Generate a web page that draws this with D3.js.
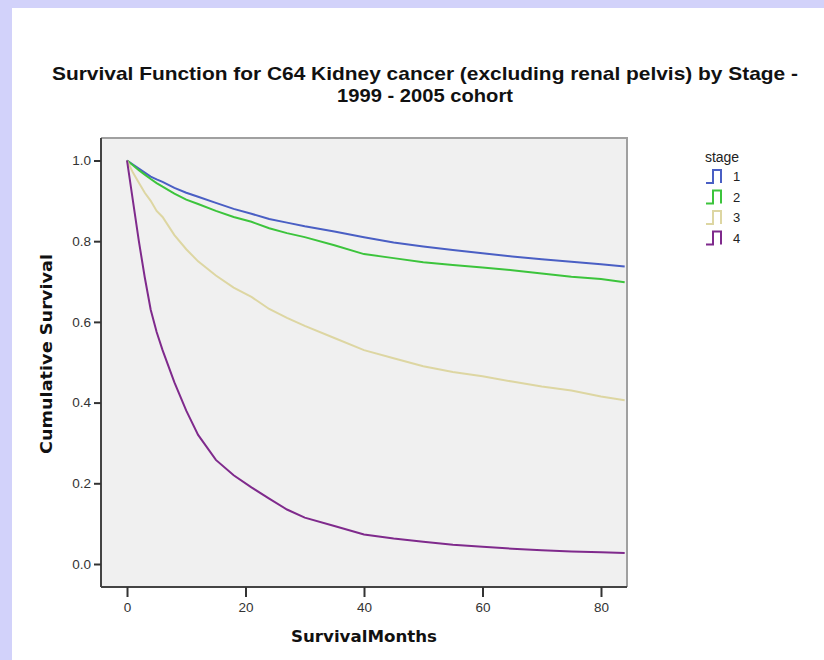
<!DOCTYPE html>
<html><head><meta charset="utf-8">
<script src="https://cdn.jsdelivr.net/npm/d3@7"></script>
<style>
html,body{margin:0;padding:0;background:#fff;}
svg{display:block;}
</style></head>
<body>
<svg id="chart" width="824" height="660"></svg>
<script>
// ---- data ----
const months = [0,1,2,3,4,5,6,8,10,12,15,18,21,24,27,30,35,40,45,50,55,60,65,70,75,80,84];
const stageNames = ["1","2","3","4"];
const stage1 = [1.0,0.99,0.98,0.97,0.96,0.953,0.947,0.932,0.92,0.91,0.895,0.88,0.868,0.855,0.846,0.837,0.824,0.81,0.797,0.787,0.778,0.77,0.762,0.755,0.749,0.743,0.737];
const stage2 = [1.0,0.988,0.976,0.965,0.954,0.944,0.935,0.918,0.903,0.892,0.875,0.86,0.848,0.832,0.82,0.81,0.79,0.768,0.758,0.748,0.741,0.735,0.728,0.72,0.712,0.706,0.698];
const stage3 = [1.0,0.97,0.945,0.92,0.90,0.875,0.86,0.815,0.78,0.75,0.715,0.685,0.662,0.632,0.61,0.59,0.56,0.53,0.51,0.49,0.476,0.465,0.452,0.44,0.43,0.415,0.406];
const stage4 = [1.0,0.90,0.80,0.71,0.63,0.575,0.53,0.45,0.38,0.32,0.258,0.22,0.19,0.162,0.135,0.115,0.094,0.073,0.063,0.055,0.048,0.043,0.038,0.034,0.031,0.029,0.027];
const xTicks = [0,20,40,60,80];
const yTicks = [0.0,0.2,0.4,0.6,0.8,1.0];
const titleLines = ["Survival Function for C64 Kidney cancer (excluding renal pelvis) by Stage -","1999 - 2005 cohort"];
const colors = ["#4a5fc4","#3cc43c","#ddd6a2","#7f2a8c"];

const series = [stage1,stage2,stage3,stage4].map((v,i)=>({name:stageNames[i],color:colors[i],values:v.map((s,j)=>({t:months[j],s}))}));

const svg = d3.select("#chart");
svg.append("rect").attr("x",0).attr("y",0).attr("width",824).attr("height",660).attr("fill","#ffffff");
svg.append("rect").attr("x",0).attr("y",0).attr("width",824).attr("height",8).attr("fill","#d2d2fa");
svg.append("rect").attr("x",0).attr("y",0).attr("width",12).attr("height",660).attr("fill","#d2d2fa");

const L=101, R=627, T=138, B=587;
const x = d3.scaleLinear().domain([-4.39,84.39]).range([L,R]);
const y = d3.scaleLinear().domain([-0.057,1.0557]).range([B,T]);

svg.append("rect").attr("x",L).attr("y",T).attr("width",R-L).attr("height",B-T).attr("fill","#f0f0f0");
svg.append("path").attr("d",`M${L},${T}H${R}V${B}`).attr("fill","none").attr("stroke","#a0a0a0").attr("stroke-width",2);

const line = d3.line().x(d=>x(d.t)).y(d=>y(d.s)).curve(d3.curveLinear);
svg.append("g").selectAll("path").data(series).join("path")
  .attr("d",d=>line(d.values)).attr("fill","none").attr("stroke",d=>d.color).attr("stroke-width",2);

const fontTick = "'Liberation Sans', Arial, sans-serif";
const yAxis = svg.append("g").attr("transform",`translate(${L},0)`)
  .call(d3.axisLeft(y).tickValues(yTicks).tickFormat(d3.format(".1f")).tickSize(7).tickPadding(3));
const xAxis = svg.append("g").attr("transform",`translate(0,${B})`)
  .call(d3.axisBottom(x).tickValues(xTicks).tickFormat(d3.format("d")).tickSize(10).tickPadding(5));
[yAxis,xAxis].forEach(g=>{
  g.select(".domain").attr("stroke","#444").attr("stroke-width",2);
  g.selectAll(".tick line").attr("stroke","#333").attr("stroke-width",2);
  g.selectAll(".tick text").attr("fill","#333").style("font-family",fontTick).style("font-size","13.5px");
});
yAxis.select(".domain").attr("d",`M0,${T}V${B}`);
xAxis.select(".domain").attr("d",`M${L},0H${R}`);

// title
const titleLen = [746,176];
svg.append("g").selectAll("text").data(titleLines).join("text")
  .attr("x",425).attr("y",(d,i)=>80+i*22).attr("text-anchor","middle")
  .attr("textLength",(d,i)=>titleLen[i]).attr("lengthAdjust","spacingAndGlyphs")
  .style("font-family",fontTick).style("font-weight","bold").style("font-size","19px").attr("fill","#111").text(d=>d);

// axis titles
svg.append("text").attr("transform",`translate(52,${354}) rotate(-90)`).attr("text-anchor","middle")
  .attr("textLength",200).attr("lengthAdjust","spacingAndGlyphs")
  .style("font-family","'DejaVu Sans', Verdana, sans-serif").style("font-weight","bold").style("font-size","16px").attr("fill","#111").text("Cumulative Survival");
svg.append("text").attr("x",364).attr("y",642).attr("text-anchor","middle")
  .attr("textLength",146).attr("lengthAdjust","spacingAndGlyphs")
  .style("font-family","'DejaVu Sans', Verdana, sans-serif").style("font-weight","bold").style("font-size","16px").attr("fill","#111").text("SurvivalMonths");

// legend
const leg = svg.append("g");
leg.append("text").attr("x",722).attr("y",162).attr("text-anchor","middle")
  .style("font-family",fontTick).style("font-size","14px").attr("fill","#222").text("stage");
const items = leg.selectAll("g.item").data(series).join("g").attr("class","item")
  .attr("transform",(d,i)=>`translate(0,${170+i*20.5})`);
items.append("path").attr("d","M706,13H713V0H721V13").attr("fill","none").attr("stroke",d=>d.color).attr("stroke-width",2);
items.append("text").attr("x",733).attr("y",11).style("font-family",fontTick).style("font-size","13px").attr("fill","#222").text(d=>d.name);
</script>
</body></html>
